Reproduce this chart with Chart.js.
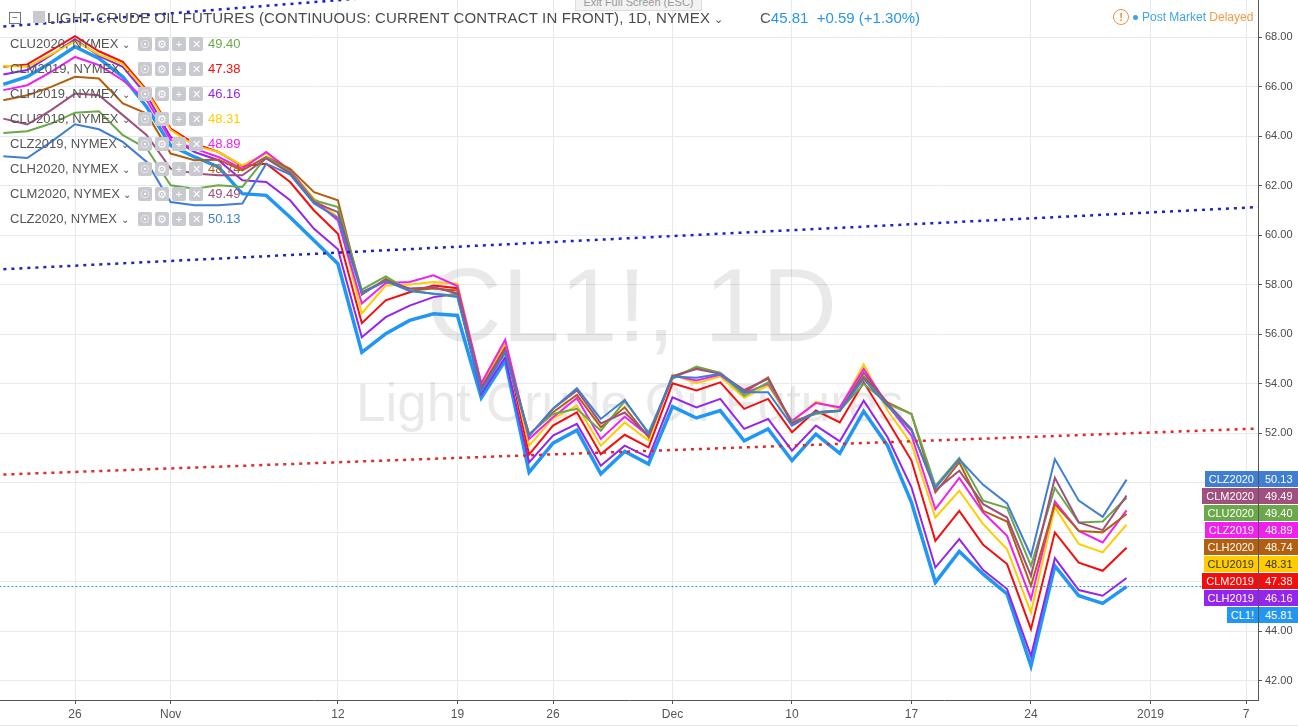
<!DOCTYPE html>
<html>
<head>
<meta charset="utf-8">
<script src="https://cdn.jsdelivr.net/npm/chart.js@4.4.1/dist/chart.umd.min.js"></script>
<style>
  body { margin: 0; background: #fff; font-family: "Liberation Sans", Arial, sans-serif; }
  #wrap { position: relative; width: 1298px; height: 728px; overflow: hidden; }
  #c { position: absolute; left: 0; top: 0; }
  .hdr { position: absolute; top: 9px; font-size: 15px; color: #4b4b4b; white-space: nowrap; }
  .leg { position: absolute; left: 10px; font-size: 13px; color: #555; white-space: nowrap; height: 18px; line-height: 18px; }
  .ico { position: absolute; top: 2px; width: 14px; height: 14px; background: #c9cad0; color: #fff; font-size: 11px; line-height: 14px; text-align: center; border-radius: 2px; }
  .val { position: absolute; left: 198px; font-size: 13px; }
  .badge { position: absolute; height: 16px; line-height: 16px; font-size: 11px; color: #fff; white-space: nowrap; }
  .bname { position: absolute; right: 40px; padding: 0 4px; }
  .bval { position: absolute; left: 1259px; width: 39px; padding-left: 6px; box-sizing: border-box; }
</style>
</head>
<body>
<div id="wrap">
<canvas id="c" width="1298" height="728"></canvas>
</div>
<script>
// trading days: Oct 23 2018 = 0 ... Dec 31 2018 = 47
var tickIdx = [3, 7, 14, 19, 23, 28, 33, 38, 43, 48, 52];
var tickText = ['26', 'Nov', '12', '19', '26', 'Dec', '10', '17', '24', '2019', '7'];
var yTicks = [42, 44, 46, 48, 50, 52, 54, 56, 58, 60, 62, 64, 66, 68];

var cl1 = [66.09, 66.40, 66.98, 67.61, 67.14, 66.40, 65.18, 63.63, 63.16, 62.76, 61.68, 61.61, 60.73, 59.79, 58.85,
  55.27, 56.02, 56.56, 56.83, 56.76, 53.43, 54.94, 50.42, 51.60, 52.13, 50.36, 51.27, 50.76, 53.08, 52.62, 52.92,
  51.70, 52.18, 50.90, 51.97, 51.19, 52.89, 51.50, 49.21, 45.98, 47.23, 46.31, 45.51, 42.61, 46.65, 45.44, 45.13, 45.81];
var clh2019 = [66.49, 66.67, 67.27, 67.92, 67.24, 66.80, 65.65, 63.97, 63.36, 63.03, 62.22, 62.15, 61.41, 60.26, 59.43,
  55.88, 56.69, 57.16, 57.50, 57.64, 53.59, 55.07, 50.83, 51.91, 52.38, 50.69, 51.50, 51.03, 53.45, 53.05, 53.39,
  52.18, 52.58, 51.30, 52.31, 51.68, 53.32, 51.84, 49.82, 46.58, 47.73, 46.48, 45.71, 43.01, 46.96, 45.67, 45.44, 46.16];
var clm2019 = [66.80, 66.90, 67.47, 68.04, 67.43, 67.00, 65.86, 64.31, 63.70, 63.36, 62.80, 62.89, 62.15, 61.00, 60.06,
  56.45, 57.37, 57.70, 57.97, 57.86, 53.92, 55.55, 51.14, 52.31, 52.85, 51.16, 51.94, 51.43, 54.02, 53.73, 54.06,
  52.99, 53.39, 52.04, 52.92, 52.44, 54.06, 52.51, 50.90, 47.66, 48.87, 47.50, 46.72, 44.09, 48.00, 46.78, 46.45, 47.38];
var clu2019 = [66.84, 66.80, 67.30, 67.84, 67.30, 66.90, 65.80, 64.25, 63.62, 63.36, 62.82, 63.30, 62.62, 61.48, 60.73,
  56.84, 57.97, 58.01, 58.11, 58.04, 53.98, 55.62, 51.50, 52.60, 53.12, 51.50, 52.44, 51.70, 54.37, 54.02, 54.29,
  53.43, 53.93, 52.45, 53.28, 52.98, 54.78, 52.92, 51.57, 48.60, 49.68, 48.33, 47.32, 44.76, 49.01, 47.53, 47.19, 48.31];
var clz2019 = [65.86, 66.06, 66.60, 67.20, 66.87, 66.26, 65.45, 63.85, 63.50, 63.16, 62.69, 63.36, 62.62, 61.41, 60.60,
  57.24, 58.07, 58.11, 58.38, 57.95, 54.02, 55.78, 51.77, 52.65, 53.43, 51.77, 52.67, 51.90, 54.33, 54.13, 54.36,
  53.62, 54.00, 52.51, 53.22, 53.05, 54.60, 53.15, 51.91, 48.94, 50.20, 48.80, 47.86, 45.30, 49.25, 48.06, 47.59, 48.89];
var clh2020 = [65.45, 65.65, 65.99, 66.40, 66.33, 65.32, 64.91, 63.30, 63.03, 63.05, 62.62, 63.16, 62.68, 61.74, 61.41,
  57.60, 58.24, 57.77, 57.85, 57.77, 53.86, 55.41, 51.95, 52.85, 53.55, 52.24, 53.05, 51.84, 54.29, 54.65, 54.44,
  53.66, 54.26, 52.40, 52.85, 52.90, 54.29, 53.25, 52.78, 49.61, 50.83, 48.87, 48.44, 45.84, 49.14, 48.06, 48.00, 48.74];
var clm2020 = [64.71, 64.47, 65.05, 65.72, 65.65, 64.85, 64.04, 62.69, 62.49, 62.42, 62.42, 63.10, 62.50, 61.34, 60.93,
  57.70, 58.16, 57.85, 57.90, 57.65, 53.80, 55.40, 51.90, 52.99, 53.73, 52.40, 52.84, 51.90, 54.29, 54.60, 54.40,
  53.75, 54.20, 52.40, 52.85, 52.90, 54.45, 53.20, 52.17, 49.70, 50.49, 49.14, 48.60, 46.24, 50.20, 48.40, 48.09, 49.49];
var clu2020 = [64.13, 64.20, 64.51, 64.95, 65.01, 64.04, 63.50, 62.02, 61.88, 62.02, 61.95, 63.16, 62.55, 61.41, 61.14,
  57.80, 58.34, 57.77, 57.64, 57.57, 53.75, 55.30, 51.97, 52.78, 52.99, 52.10, 53.30, 52.04, 54.20, 54.70, 54.44,
  53.52, 54.06, 52.48, 52.78, 52.92, 54.00, 53.20, 52.78, 49.88, 51.00, 49.28, 48.98, 46.65, 49.79, 48.40, 48.44, 49.40];
var clz2020 = [63.19, 63.12, 63.77, 64.48, 64.28, 63.77, 62.96, 61.34, 61.21, 61.21, 61.28, 62.89, 62.45, 61.28, 60.70,
  57.65, 58.15, 57.75, 57.64, 57.50, 53.70, 55.25, 51.90, 52.99, 53.82, 52.58, 53.35, 51.98, 54.29, 54.24, 54.40,
  53.66, 53.66, 52.31, 52.85, 52.92, 54.20, 53.10, 52.11, 49.80, 50.95, 49.92, 49.17, 47.05, 50.96, 49.28, 48.63, 50.13];

// drawn trend lines: [index, price] endpoints
var trendBlueX = [-1, 53], trendBlueY = [58.58, 61.16];
var trendTopX = [-1, 20], trendTopY = [68.35, 69.95];
var trendRedX = [-1, 53], trendRedY = [50.30, 52.21];
var lastLineX = [-1, 53], lastLineY = [45.81, 45.81];

var legendNames = ['CLU2020', 'CLM2019', 'CLH2019', 'CLU2019', 'CLZ2019', 'CLH2020', 'CLM2020', 'CLZ2020'];
var legendVals = ['49.40', '47.38', '46.16', '48.31', '48.89', '48.74', '49.49', '50.13'];
var badgeNames = ['CLZ2020', 'CLM2020', 'CLU2020', 'CLZ2019', 'CLH2020', 'CLU2019', 'CLM2019', 'CLH2019', 'CL1!'];
var badgeVals = ['50.13', '49.49', '49.40', '48.89', '48.74', '48.31', '47.38', '46.16', '45.81'];

var colors = {
  'CL1!': '#2196f3', CLH2019: '#9425ee', CLM2019: '#f50d0d', CLU2019: '#ffcc00', CLH2020: '#b35f12',
  CLZ2019: '#f020f0', CLU2020: '#6aa84a', CLM2020: '#a0507e', CLZ2020: '#3f7ed3'
};

function pts(vals) { return vals.map(function (v, i) { return { x: i, y: v }; }); }
function seg(xs, ys) { return xs.map(function (x, i) { return { x: x, y: ys[i] }; }); }
function line(name, vals, w) {
  return { label: name, data: pts(vals), borderColor: colors[name], borderWidth: w, pointRadius: 0, tension: 0, fill: false };
}

var datasets = [
  { label: 'trendTop', data: seg(trendTopX, trendTopY), borderColor: '#1f23b8', borderWidth: 2.5, borderDash: [3, 5], pointRadius: 0 },
  { label: 'trendBlue', data: seg(trendBlueX, trendBlueY), borderColor: '#1f23b8', borderWidth: 2.5, borderDash: [3, 5], pointRadius: 0 },
  { label: 'trendRed', data: seg(trendRedX, trendRedY), borderColor: '#e02a2a', borderWidth: 2.5, borderDash: [3, 5], pointRadius: 0 },
  { label: 'last', data: seg(lastLineX, lastLineY), borderColor: '#2a8fd8', borderWidth: 1, borderDash: [2, 2], pointRadius: 0 },
  line('CLZ2020', clz2020, 2),
  line('CLM2020', clm2020, 2),
  line('CLU2020', clu2020, 2),
  line('CLH2020', clh2020, 2),
  line('CLZ2019', clz2019, 2),
  line('CLU2019', clu2019, 2),
  line('CLM2019', clm2019, 2),
  line('CLH2019', clh2019, 2),
  line('CL1!', cl1, 3.5)
];

var watermark = {
  id: 'watermark',
  beforeDatasetsDraw: function (chart) {
    var ctx = chart.ctx;
    ctx.save();
    ctx.fillStyle = 'rgba(0,0,0,0.085)';
    ctx.textAlign = 'center';
    ctx.textBaseline = 'alphabetic';
    ctx.font = '104px "Liberation Sans", Arial, sans-serif';
    ctx.fillText('CL1!, 1D', 632, 341);
    ctx.font = '53px "Liberation Sans", Arial, sans-serif';
    ctx.fillText('Light Crude Oil Futures', 630, 421);
    ctx.restore();
  },
  afterDraw: function (chart) {
    var ctx = chart.ctx;
    ctx.save();
    ctx.fillStyle = '#e4e6ea';
    ctx.fillRect(0, 725, chart.width, 1);
    ctx.restore();
  }
};

new Chart(document.getElementById('c').getContext('2d'), {
  type: 'line',
  data: { datasets: datasets },
  plugins: [watermark],
  options: {
    responsive: false,
    animation: false,
    layout: { padding: 0 },
    plugins: { legend: { display: false }, tooltip: { enabled: false } },
    scales: {
      x: {
        type: 'linear', min: -0.14, max: 52.5,
        afterBuildTicks: function (axis) { axis.ticks = tickIdx.map(function (v) { return { value: v }; }); },
        afterFit: function (s) { s.height = 28; s.paddingLeft = 0; s.paddingRight = 0; },
        ticks: {
          autoSkip: false, maxRotation: 0, padding: 3, color: '#555',
          font: { size: 12, family: '"Liberation Sans", Arial, sans-serif' },
          callback: function (v) { return tickText[tickIdx.indexOf(v)]; }
        },
        grid: { color: '#e3ebf0', tickLength: 4, tickColor: '#555' },
        border: { display: true, color: '#555', width: 1 }
      },
      y: {
        position: 'right', min: 41.23, max: 69.5,
        afterBuildTicks: function (axis) { axis.ticks = yTicks.map(function (v) { return { value: v }; }); },
        afterFit: function (s) { s.width = 40; s.paddingTop = 0; s.paddingBottom = 0; },
        ticks: {
          padding: 3, color: '#4a4a4a',
          font: { size: 11, family: '"Liberation Sans", Arial, sans-serif' },
          callback: function (v) { return v.toFixed(2); }
        },
        grid: { color: '#e3ebf0', tickLength: 4, tickColor: '#555' },
        border: { display: true, color: '#555', width: 1 }
      }
    }
  }
});

// overlays (header, legend rows, price badges)
var wrap = document.getElementById('wrap');
function add(html) { wrap.insertAdjacentHTML('beforeend', html); }

add('<div style="position:absolute;left:575px;top:-7px;width:125px;height:16px;background:#f2f2f2;border:1px solid #ddd;font-size:11px;color:#9a9a9a;text-align:center;line-height:16px">Exit Full Screen (ESC)</div>');
add('<div style="position:absolute;left:9px;top:12px;width:10px;height:10px;border:1px solid #777;font-size:10px;line-height:9px;text-align:center;color:#555">&minus;</div>');
add('<div style="position:absolute;left:33px;top:11px;width:12px;height:12px;background:#c9cad0"></div>');
add('<div class="hdr" style="left:47px;letter-spacing:0.15px">LIGHT CRUDE OIL FUTURES (CONTINUOUS: CURRENT CONTRACT IN FRONT), 1D, NYMEX <span style="font-size:11px">&#8964;</span></div>');
add('<div class="hdr" style="left:760px;color:#2a96e8"><span style="color:#555">C</span>45.81&nbsp; +0.59 (+1.30%)</div>');
add('<div style="position:absolute;left:1113px;top:9px;width:14px;height:14px;border:1.5px solid #f09040;border-radius:50%;font-size:11px;line-height:14px;text-align:center;color:#f09040;font-weight:bold">!</div>');
add('<div style="position:absolute;left:1133px;top:15px;width:5px;height:5px;background:#3ea3e8;border-radius:50%"></div>');
add('<div style="position:absolute;left:1142px;top:10px;font-size:12px;color:#3ea3e8;white-space:nowrap">Post Market <span style="color:#f59a45">Delayed</span></div>');

var icons = ['&#9737;', '&#9881;', '+', '&#10005;'];
legendNames.forEach(function (n, i) {
  var top = 35 + i * 25;
  var h = '<div class="leg" style="top:' + top + 'px;width:260px">' + n + ', NYMEX <span style="font-size:10px">&#8964;</span>';
  icons.forEach(function (ic, k) { h += '<span class="ico" style="left:' + (128 + k * 17) + 'px">' + ic + '</span>'; });
  h += '<span class="val" style="color:' + colors[n] + '">' + legendVals[i] + '</span></div>';
  add(h);
});

badgeNames.forEach(function (n, i) {
  var top = 471 + i * 17;
  var tc = n === 'CLU2019' ? '#333' : '#fff';
  add('<div class="badge" style="top:' + top + 'px;left:0;width:1298px;color:' + tc + '">' +
    '<span class="bname" style="background:' + colors[n] + '">' + n + '</span>' +
    '<span class="bval" style="background:' + colors[n] + '">' + badgeVals[i] + '</span></div>');
});
</script>
</body>
</html>
